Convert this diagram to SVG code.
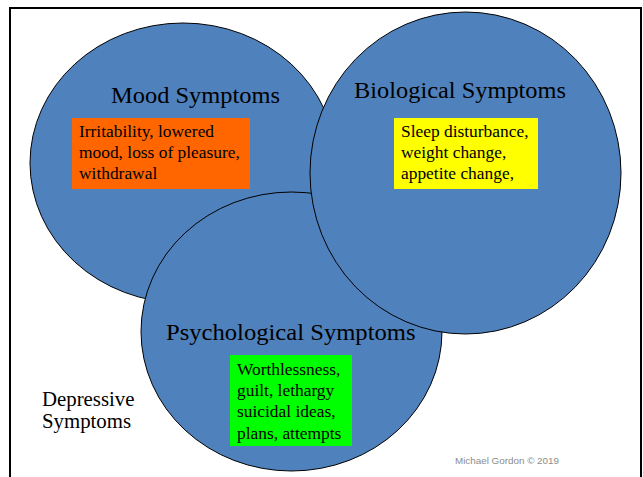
<svg xmlns="http://www.w3.org/2000/svg" width="643" height="477" viewBox="0 0 643 477">
<style>
.c{fill:#4F81BD;stroke:#000;stroke-width:1}
.t{font-family:"Liberation Serif","Times New Roman",serif;fill:#000}
.h{font-size:24px}
.b{font-size:17.4px}
</style>
<rect x="0" y="0" width="643" height="477" fill="#fff"/>
<path d="M10,490 V8 H641 V490" fill="none" stroke="#000" stroke-width="2"/>
<g id="mood">
<ellipse class="c" cx="183" cy="163" rx="153" ry="140"/>
<text class="t h" x="111" y="103" textLength="169" lengthAdjust="spacingAndGlyphs">Mood Symptoms</text>
<rect x="72" y="118" width="178" height="71" fill="#FF6600"/>
<text class="t b"><tspan x="79" y="137">Irritability, lowered</tspan><tspan x="79" y="158">mood, loss of pleasure,</tspan><tspan x="79" y="179">withdrawal</tspan></text>
</g>
<g id="psych">
<ellipse class="c" cx="291.5" cy="331.5" rx="150.5" ry="139.5"/>
<text class="t h" x="166" y="340" textLength="249.5" lengthAdjust="spacingAndGlyphs">Psychological Symptoms</text>
<rect x="230" y="355" width="122" height="91" fill="#00FF00"/>
<text class="t b"><tspan x="237" y="375">Worthlessness,</tspan><tspan x="237" y="396">guilt, lethargy</tspan><tspan x="237" y="417">suicidal ideas,</tspan><tspan x="237" y="439">plans, attempts</tspan></text>
</g>
<g id="bio">
<ellipse class="c" cx="465.5" cy="173" rx="155.5" ry="161"/>
<text class="t h" x="354" y="98" textLength="212" lengthAdjust="spacingAndGlyphs">Biological Symptoms</text>
<rect x="394" y="118" width="144" height="71" fill="#FFFF00"/>
<text class="t b"><tspan x="401" y="137">Sleep disturbance,</tspan><tspan x="401" y="158">weight change,</tspan><tspan x="401" y="179">appetite change,</tspan></text>
</g>
<g id="labels">
<text class="t" font-size="20.8" x="42" y="406" textLength="92.4" lengthAdjust="spacingAndGlyphs">Depressive</text>
<text class="t" font-size="20.8" x="42" y="428">Symptoms</text>
<text x="455" y="464" font-family="Liberation Sans, Arial, sans-serif" font-size="9.8" fill="#8C8C8C" textLength="104" lengthAdjust="spacingAndGlyphs">Michael Gordon © 2019</text>
</g>
<g id="connectors"/>
</svg>
